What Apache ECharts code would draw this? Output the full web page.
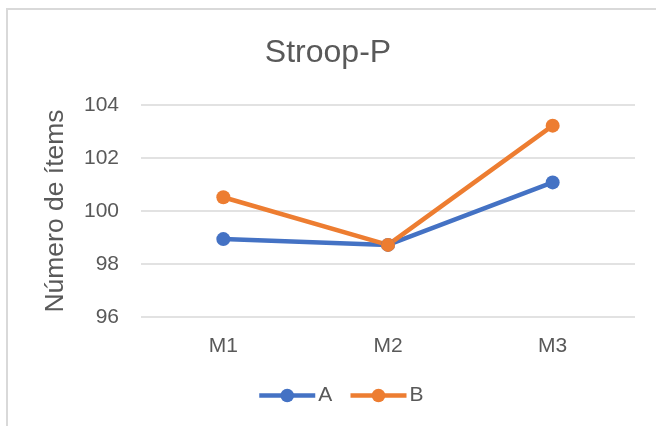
<!DOCTYPE html>
<html>
<head>
<meta charset="utf-8">
<script src="https://cdn.jsdelivr.net/npm/echarts@6/dist/echarts.min.js"></script>
<style>html,body{margin:0;padding:0;background:#fff;}#c{width:656px;height:426px;}</style>
</head>
<body>
<div id="c"></div>
<script>
var categories = ['M1', 'M2', 'M3'];
var seriesA = [98.94, 98.72, 101.08];
var seriesB = [100.52, 98.72, 103.22];
var seriesNames = ['A', 'B'];
var yTicks = [96, 98, 100, 102, 104];

var chart = echarts.init(document.getElementById('c'), null, {renderer: 'canvas'});
var txt = '#595959';
var font = 'Arial, "Liberation Sans", sans-serif';
chart.setOption({
  animation: false,
  backgroundColor: '#fff',
  graphic: [{
    type: 'rect', shape: {x: 7, y: 9, width: 700, height: 500},
    style: {fill: 'none', stroke: '#D9D9D9', lineWidth: 2}, z: -1
  }],
  title: {
    text: 'Stroop-P', left: 'center', top: 32,
    textStyle: {color: txt, fontSize: 32, fontWeight: 'normal', fontFamily: font}
  },
  legend: {
    data: seriesNames, top: 380, left: 252, itemWidth: 56, itemHeight: 17, itemGap: 16,
    lineStyle: {width: 4.5},
    textStyle: {color: txt, fontSize: 21, fontFamily: font, padding: [0, 0, 0, -2]}
  },
  grid: {left: 141, right: 21, top: 105, bottom: 109, containLabel: false},
  xAxis: {
    type: 'category', data: categories, boundaryGap: true,
    axisLine: {show: false}, axisTick: {show: false},
    axisLabel: {color: txt, fontSize: 21, fontFamily: font, margin: 19}
  },
  yAxis: {
    type: 'value', min: yTicks[0], max: yTicks[yTicks.length - 1], interval: 2,
    name: 'Número de ítems', nameLocation: 'middle', nameGap: 72, nameRotate: 90,
    nameTextStyle: {color: txt, fontSize: 26.5, fontFamily: font},
    axisLine: {show: false}, axisTick: {show: false},
    axisLabel: {color: txt, fontSize: 21, fontFamily: font, margin: 22},
    splitLine: {lineStyle: {color: '#D9D9D9', width: 1.5}}
  },
  series: [
    {name: seriesNames[0], type: 'line', data: seriesA, symbol: 'circle', symbolSize: 14,
     lineStyle: {color: '#4472C4', width: 4.5}, itemStyle: {color: '#4472C4'}},
    {name: seriesNames[1], type: 'line', data: seriesB, symbol: 'circle', symbolSize: 14,
     lineStyle: {color: '#ED7D31', width: 4.5}, itemStyle: {color: '#ED7D31'}}
  ]
});
</script>
</body>
</html>
